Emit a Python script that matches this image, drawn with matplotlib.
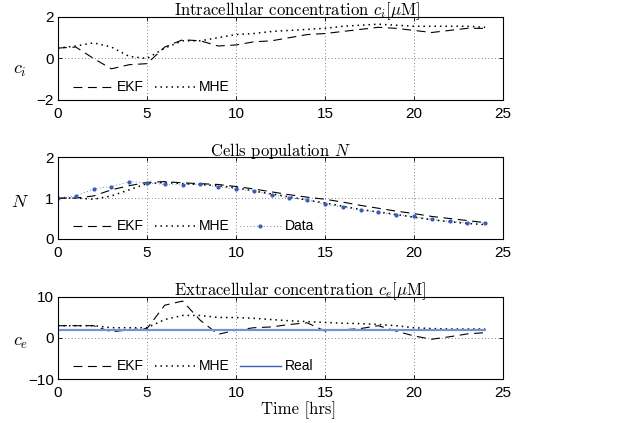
import matplotlib
matplotlib.use("Agg")
import matplotlib.pyplot as plt
import numpy as np

hours = list(range(25))

ci_ekf = [0.5, 0.55, 0.0, -0.5, -0.3, -0.25, 0.55, 0.9, 0.85, 0.6, 0.65, 0.8, 0.85, 1.0, 1.15,
          1.2, 1.3, 1.4, 1.5, 1.45, 1.35, 1.25, 1.35, 1.45, 1.45]
ci_mhe = [0.5, 0.6, 0.75, 0.55, 0.1, 0.0, 0.5, 0.85, 0.85, 1.0, 1.15, 1.2, 1.3, 1.35, 1.4,
          1.45, 1.55, 1.6, 1.65, 1.6, 1.55, 1.55, 1.55, 1.55, 1.5]

n_ekf = [1.0, 1.0, 1.05, 1.2, 1.3, 1.38, 1.4, 1.37, 1.35, 1.33, 1.28, 1.22, 1.15, 1.08, 1.02,
         0.97, 0.9, 0.82, 0.75, 0.68, 0.62, 0.55, 0.5, 0.45, 0.4]
n_mhe = [1.0, 1.0, 0.97, 1.05, 1.2, 1.35, 1.38, 1.35, 1.33, 1.3, 1.25, 1.17, 1.1, 1.03, 0.95,
         0.88, 0.8, 0.72, 0.66, 0.6, 0.53, 0.47, 0.42, 0.38, 0.35]
n_data = [1.0, 1.05, 1.22, 1.28, 1.4, 1.37, 1.33, 1.32, 1.34, 1.27, 1.22, 1.17, 1.08, 1.0, 0.95,
          0.85, 0.78, 0.7, 0.65, 0.58, 0.55, 0.48, 0.43, 0.4, 0.4]

ce_ekf = [3.0, 3.0, 3.0, 1.5, 2.0, 2.3, 8.0, 9.0, 4.3, 0.9, 1.9, 2.5, 2.7, 3.3, 3.7,
          1.7, 2.0, 2.3, 3.0, 1.7, 0.5, -0.3, 0.3, 1.0, 1.3]
ce_mhe = [3.0, 3.0, 3.0, 2.5, 2.5, 2.5, 4.5, 5.5, 5.5, 5.0, 5.0, 4.8, 4.5, 4.2, 4.0,
          3.8, 3.6, 3.5, 3.3, 3.0, 2.5, 2.3, 2.2, 2.2, 2.2]
ce_real = [2.0] * 25

plt.rcParams['font.family'] = ['Liberation Sans', 'DejaVu Sans']
plt.rcParams['mathtext.fontset'] = 'cm'

fig = plt.figure(figsize=(6.22, 4.23), dpi=100)
L, W = 0.0932, 0.7154
rects = [(L, 0.7636, W, 0.1964), (L, 0.435, W, 0.1938), (L, 0.104, W, 0.1939)]
axes = [fig.add_axes(r) for r in rects]

ekf_kw = dict(color='black', lw=0.8, dashes=(8, 5))
mhe_kw = dict(color='black', lw=1.1, linestyle=(0, (1, 2.6)))
blue = '#3b5bb5'

titles = [r'Intracellular concentration $c_i[\mu$M$]$', r'Cells population $N$',
          r'Extracellular concentration $c_e[\mu$M$]$']
title_x = [0.538, 0.5, 0.545]
ylabels = [r'$c_i$', r'$N$', r'$c_e$']
ylabel_y = [0.36, 0.44, 0.45]
ylims = [(-2, 2), (0, 2), (-10, 10)]
yticks = [[-2, 0, 2], [0, 1, 2], [-10, 0, 10]]

ax = axes[0]
ax.plot(hours, ci_ekf, label='EKF', **ekf_kw)
ax.plot(hours, ci_mhe, label='MHE', **mhe_kw)

ax = axes[1]
ax.plot(hours, n_ekf, label='EKF', **ekf_kw)
ax.plot(hours, n_mhe, label='MHE', **mhe_kw)
ax.plot(hours, n_data, label='Data', color=blue, lw=0.6, linestyle=(0, (1, 3)),
        marker='.', markersize=4)

ax = axes[2]
ax.plot(hours, ce_ekf, label='EKF', **ekf_kw)
ax.plot(hours, ce_mhe, label='MHE', **mhe_kw)
ax.plot(hours, ce_real, label='Real', color='#7393d6', lw=1.6)

for i, ax in enumerate(axes):
    ax.set_xlim(0, 25)
    ax.set_ylim(*ylims[i])
    ax.set_xticks([0, 5, 10, 15, 20, 25])
    ax.set_yticks(yticks[i])
    ax.grid(True, color='#555555', linestyle=(0, (1, 3)), lw=0.6)
    ax.tick_params(direction='in', length=3, width=0.6, labelsize=11, top=True, right=True)
    ax.tick_params(axis='x', pad=5)
    ax.tick_params(axis='y', pad=3)
    for s in ax.spines.values():
        s.set_linewidth(0.8)
    ax.set_title(titles[i], fontsize=12, family='cmr10', pad=1, x=title_x[i])
    ax.set_ylabel(ylabels[i], fontsize=13, rotation=0, va='center', ha='center')
    ax.yaxis.set_label_coords(-0.085, ylabel_y[i])
    leg = ax.legend(loc='lower left', ncol=3, frameon=False, fontsize=10, handlelength=2.9,
                    handletextpad=0.3, columnspacing=0.75, borderaxespad=0.0,
                    bbox_to_anchor=(0.021, 0.0))
    if i == 2:
        leg.get_lines()[2].set_color(blue)
        leg.get_lines()[2].set_linewidth(1.0)

axes[2].set_xlabel('Time [hrs]', fontsize=12, family='cmr10', labelpad=1, x=0.54)

fig.savefig('out.png', dpi=100)
